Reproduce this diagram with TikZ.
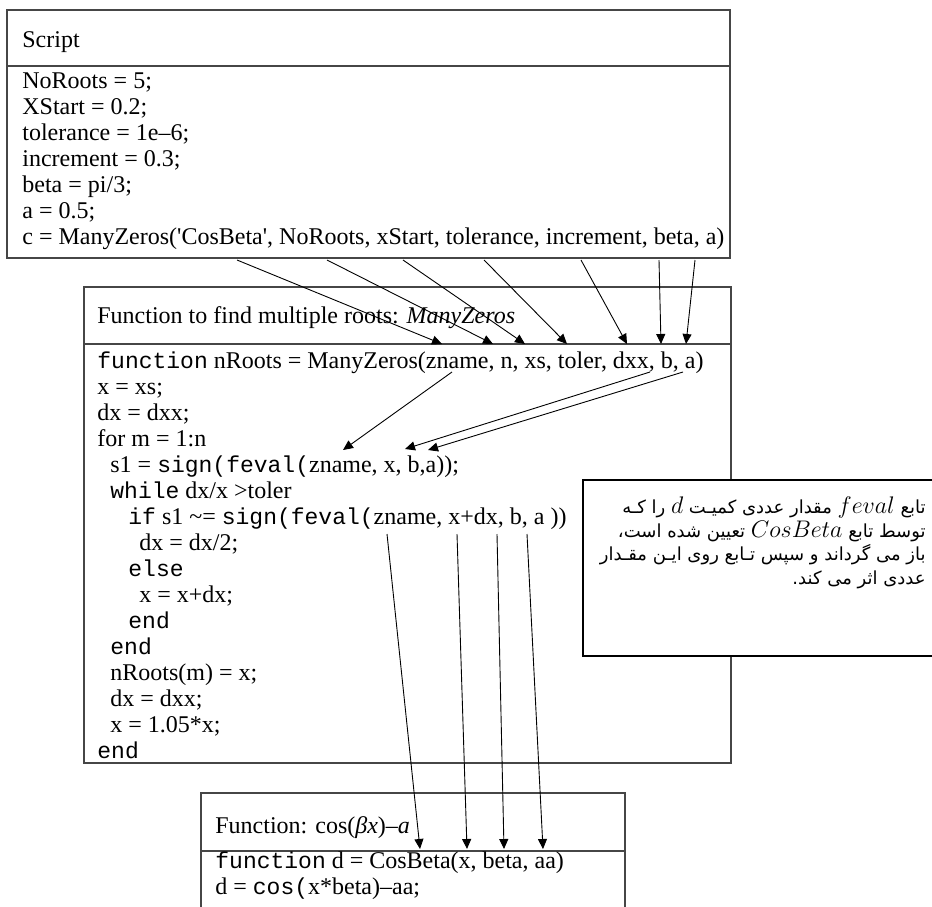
\documentclass[tikz,border=0pt]{standalone}
\usepackage{fontspec}
\setmainfont{Liberation Serif}
\setmonofont{Liberation Mono}
\newfontfamily\farsifont[Script=Arabic]{DejaVu Sans}
\TeXXeTstate=1
\usetikzlibrary{arrows.meta, positioning}
\definecolor{frame}{RGB}{70, 70, 70}
\newcommand{\mono}[1]{{\ttfamily\fontsize{11.5}{14}\selectfont #1}}
\newcommand{\latword}[1]{\beginL{\fontsize{13}{14}\selectfont$#1$}\endL}

\begin{document}
\begin{tikzpicture}[x=0.5pt, y=-0.5pt,
  codeline/.style={anchor=base west, inner sep=0pt, font=\fontsize{12}{14}\selectfont},
  farsiline/.style={anchor=base east, inner sep=0pt, font=\farsifont\fontsize{9}{11}\selectfont},
  frameline/.style={draw=frame, line width=0.7pt},
  argarrow/.style={black, line width=0.45pt, -{Triangle[length=5pt, width=4.5pt]}}]

  \useasboundingbox (0,0) rectangle (932,906);

  % calling script
  \draw[frameline] (7,10) rectangle (730,258);
  \draw[frameline] (7,66) -- (730,66);
  \node[codeline] (scripthead) at (22,47) {Script};
  \foreach \k/\txt in {0/{NoRoots = 5;}, 1/{XStart = 0.2;}, 2/{tolerance = 1e–6;},
      3/{increment = 0.3;}, 4/{beta = pi/3;}, 5/{a = 0.5;},
      6/{c = ManyZeros(\textquotesingle CosBeta\textquotesingle, NoRoots, xStart, tolerance, increment, beta, a)}}
    \node[codeline] (script\k) at (22,88+26*\k) {\txt};

  % ManyZeros
  \draw[frameline] (84,287) rectangle (731,763);
  \draw[frameline] (84,344) -- (731,344);
  \node[codeline] (manyhead) at (97,323) {Function to find multiple roots: \textit{ManyZeros}};
  \foreach \k/\ind/\txt in {0/97/{\mono{function} nRoots = ManyZeros(zname, n, xs, toler, dxx, b, a)},
      1/97/{x = xs;}, 2/97/{dx = dxx;}, 3/97/{for m = 1:n},
      4/110/{s1 = \mono{sign(feval(}zname, x, b,a));},
      5/110/{\mono{while} dx/x >toler},
      6/128/{\mono{if} s1 \textasciitilde= \mono{sign(feval(}zname, x+dx, b, a ))},
      7/139/{dx = dx/2;}, 8/128/{\mono{else}}, 9/139/{x = x+dx;}, 10/128/{\mono{end}},
      11/110/{\mono{end}}, 12/110/{nRoots(m) = x;}, 13/110/{dx = dxx;},
      14/110/{x = 1.05*x;}, 15/97/{\mono{end}}}
    \node[codeline] (many\k) at (\ind,368+26*\k) {\txt};

  % CosBeta
  \draw[frameline] (201,793) rectangle (625,915);
  \draw[frameline] (201,851) -- (625,851);
  \node[codeline] (coshead) at (215,833) {Function: cos(\textit{βx})–\textit{a}};
  \node[codeline] (cosdef) at (215,868) {\mono{function} d = CosBeta(x, beta, aa)};
  \node[codeline] (cosbody) at (215,894) {d = \mono{cos(}x*beta)–aa;};

  % note
  \filldraw[fill=white, draw=black, line width=1pt] (583,480) rectangle (945,656);
  \node[farsiline] (note1) at (926,513) {\beginR تابع  \latword{feval} مقدار عددی کمیـت \latword{d} را کـه\endR};
  \node[farsiline] (note2) at (926,537) {\beginR توسط تابع  \latword{CosBeta} تعیین شده است،\endR};
  \node[farsiline] (note3) at (926,560) {\beginR باز می گرداند و سپس تـابع روی ایـن مقـدار\endR};
  \node[farsiline] (note4) at (926,584) {\beginR عددی اثر می کند.\endR};

  % arguments passed on
  \foreach \n/\sx/\tx in {1/237/442, 2/327/493, 3/403/525, 4/484/567, 5/581/627, 6/659/661, 7/695/686}{
    \coordinate (arg\n) at (\sx,260);
    \coordinate (par\n) at (\tx,344);
    \draw[argarrow] (arg\n) -- (par\n);
  }
  \foreach \n/\sx/\tx/\ty in {1/452/343/450, 2/650/405/449, 3/683/428/450}{
    \coordinate (in\n) at (\sx,372);
    \coordinate (use\n) at (\tx,\ty);
    \draw[argarrow] (in\n) -- (use\n);
  }
  \foreach \n/\sx/\tx in {1/387/420, 2/457/467, 3/497/504, 4/527/543}{
    \coordinate (call\n) at (\sx,534);
    \coordinate (cb\n) at (\tx,849);
    \draw[argarrow] (call\n) -- (cb\n);
  }
\end{tikzpicture}
\end{document}
